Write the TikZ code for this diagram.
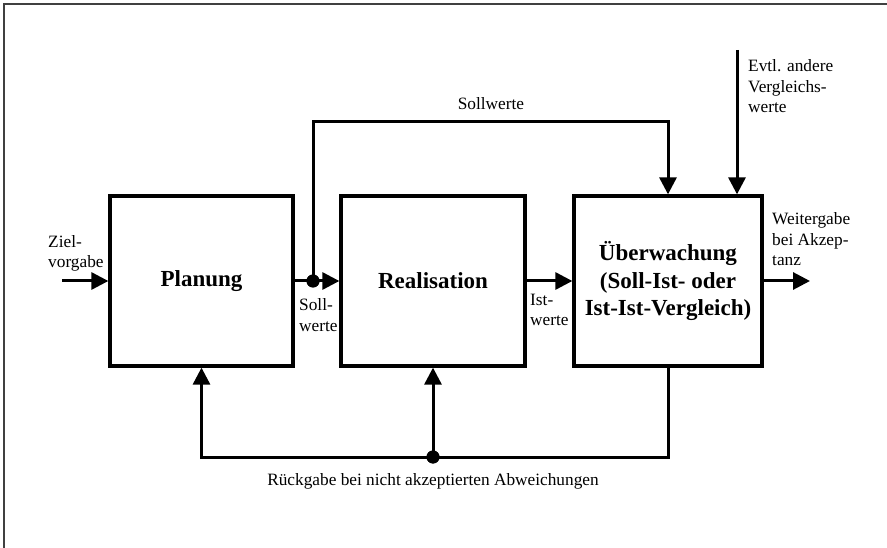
\documentclass[tikz,border=0pt]{standalone}
\usepackage{fontspec}
\setmainfont{Liberation Serif}
\usetikzlibrary{arrows.meta}
\newcommand\lblfont{\fontsize{17.3}{20.7}\selectfont}
\newcommand\boxfont{\fontsize{23}{27.5}\selectfont\bfseries}
\begin{document}
\begin{tikzpicture}[x=1pt,y=-1pt,
  box/.style={draw, line width=3.3pt, inner sep=0pt, align=center,
    font=\boxfont, minimum height=170pt},
  wire/.style={line width=3pt},
  flow/.style={wire, -{Triangle[length=17pt,width=17pt]}},
  dot/.style={circle, fill, inner sep=0pt, minimum size=13pt},
  lbl/.style={inner sep=0pt, font=\lblfont, align=left, anchor=base west},
  frameline/.style={line width=2pt, black!75}]
  \useasboundingbox (0,0) rectangle (887,548);
  % frame
  \draw[frameline] (4,548) -- (4,4) -- (887,4);

  % process blocks
  \node[box, minimum width=183pt] (plan) at (201.5,281) {Planung};
  \node[box, minimum width=184pt] (real) at (433,281) {Realisation};
  \node[box, minimum width=188pt] (ueb) at (668,281)
    {Überwachung\\(Soll-Ist- oder\\Ist-Ist-Vergleich)};

  % free ends and junctions
  \coordinate (zs) at (62,281);
  \coordinate (out) at (810,281);
  \coordinate (evtl) at (737,50);
  \coordinate (sc) at (668,122);
  \node[dot] (d1) at (313,281) {};
  \node[dot] (d2) at (433,457) {};

  % connectors
  \draw[flow] (zs) -- (plan.west);
  \draw[flow] (plan.east) -- (real.west);
  \draw[flow] (d1.center) |- (sc) -- (ueb.north);
  \draw[flow] (evtl) -- (evtl |- ueb.north);
  \draw[flow] (real.east) -- (ueb.west);
  \draw[flow] (ueb.east) -- (out);
  \draw[flow] (ueb.south) |- (d2.center) -| (plan.south);
  \draw[flow] (d2.center) -- (real.south);
  \node[dot] at (d1) {};
  \node[dot] at (d2) {};

  % labels (multi-line labels are anchored at the baseline of their last line)
  \node[lbl] (lziel) at (48,268) {Ziel-\\vorgabe};
  \node[lbl] (lsoll) at (299,331) {Soll-\\werte};
  \node[lbl] (list) at (530,326) {Ist-\\werte};
  \node[lbl, anchor=base] (lsollw) at (491,110) {Sollwerte};
  \node[lbl] (levtl) at (748,113) {Evtl. andere\\Vergleichs-\\werte};
  \node[lbl] (lweiter) at (772,266) {Weitergabe\\bei Akzep-\\tanz};
  \node[lbl, anchor=base] (lrueck) at (433,485)
    {Rückgabe bei nicht akzeptierten Abweichungen};
\end{tikzpicture}
\end{document}
